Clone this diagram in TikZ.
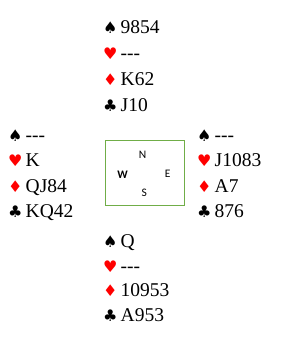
\documentclass[tikz,border=0pt]{standalone}
\usepackage{fontspec}
\setmainfont{Liberation Serif}
\newfontfamily\suitfont{DejaVu Sans}
\newfontfamily\boxfont{Carlito}
\definecolor{suitred}{HTML}{FF0000}
\definecolor{boxgreen}{HTML}{70AD47}
\newcommand\suitbox[2]{\makebox[17.5pt][l]{\color{#1}\fontsize{16}{16}\suitfont #2}}
\newcommand\Sp{\suitbox{black}{♠}}
\newcommand\He{\suitbox{suitred}{♥}}
\newcommand\Di{\suitbox{suitred}{♦}}
\newcommand\Cl{\suitbox{black}{♣}}
\newcommand\void{-{}-{}-}
\begin{document}
\begin{tikzpicture}[x=1pt,y=-1pt,
  cardline/.style={anchor=base west,inner sep=0pt,font=\fontsize{19.5}{20}\selectfont},
  compass/.style={inner sep=0pt,font=\fontsize{11.5}{12}\boxfont},
  tablebox/.style={draw=boxgreen,line width=0.8pt}]
\useasboundingbox (0,0) rectangle (287,338);
% North
\node[cardline] (n1) at (103,33.3) {\Sp 9854};
\node[cardline] (n2) at (103,59.4) {\He \void};
\node[cardline] (n3) at (103,85.5) {\Di K62};
\node[cardline] (n4) at (103,111.6) {\Cl J10};
% West
\node[cardline] (w1) at (8,141) {\Sp \void};
\node[cardline] (w2) at (8,166.5) {\He K};
\node[cardline] (w3) at (8,192) {\Di QJ84};
\node[cardline] (w4) at (8,217.3) {\Cl KQ42};
% East
\node[cardline] (e1) at (197,141) {\Sp \void};
\node[cardline] (e2) at (197,166.5) {\He J1083};
\node[cardline] (e3) at (197,192) {\Di A7};
\node[cardline] (e4) at (197,217.3) {\Cl 876};
% South
\node[cardline] (s1) at (103,247.3) {\Sp Q};
\node[cardline] (s2) at (103,272) {\He \void};
\node[cardline] (s3) at (103,296.6) {\Di 10953};
\node[cardline] (s4) at (103,321.5) {\Cl A953};
% Table
\draw[tablebox] (105,140) rectangle (184,205.3);
\node[compass] (cn) at (142.7,155) {N};
\node[compass,font=\fontsize{11.5}{12}\boxfont\bfseries] (cw) at (122.7,174.3) {W};
\node[compass] (ce) at (167.7,174.3) {E};
\node[compass] (cs) at (144.3,193.3) {S};
\end{tikzpicture}
\end{document}
